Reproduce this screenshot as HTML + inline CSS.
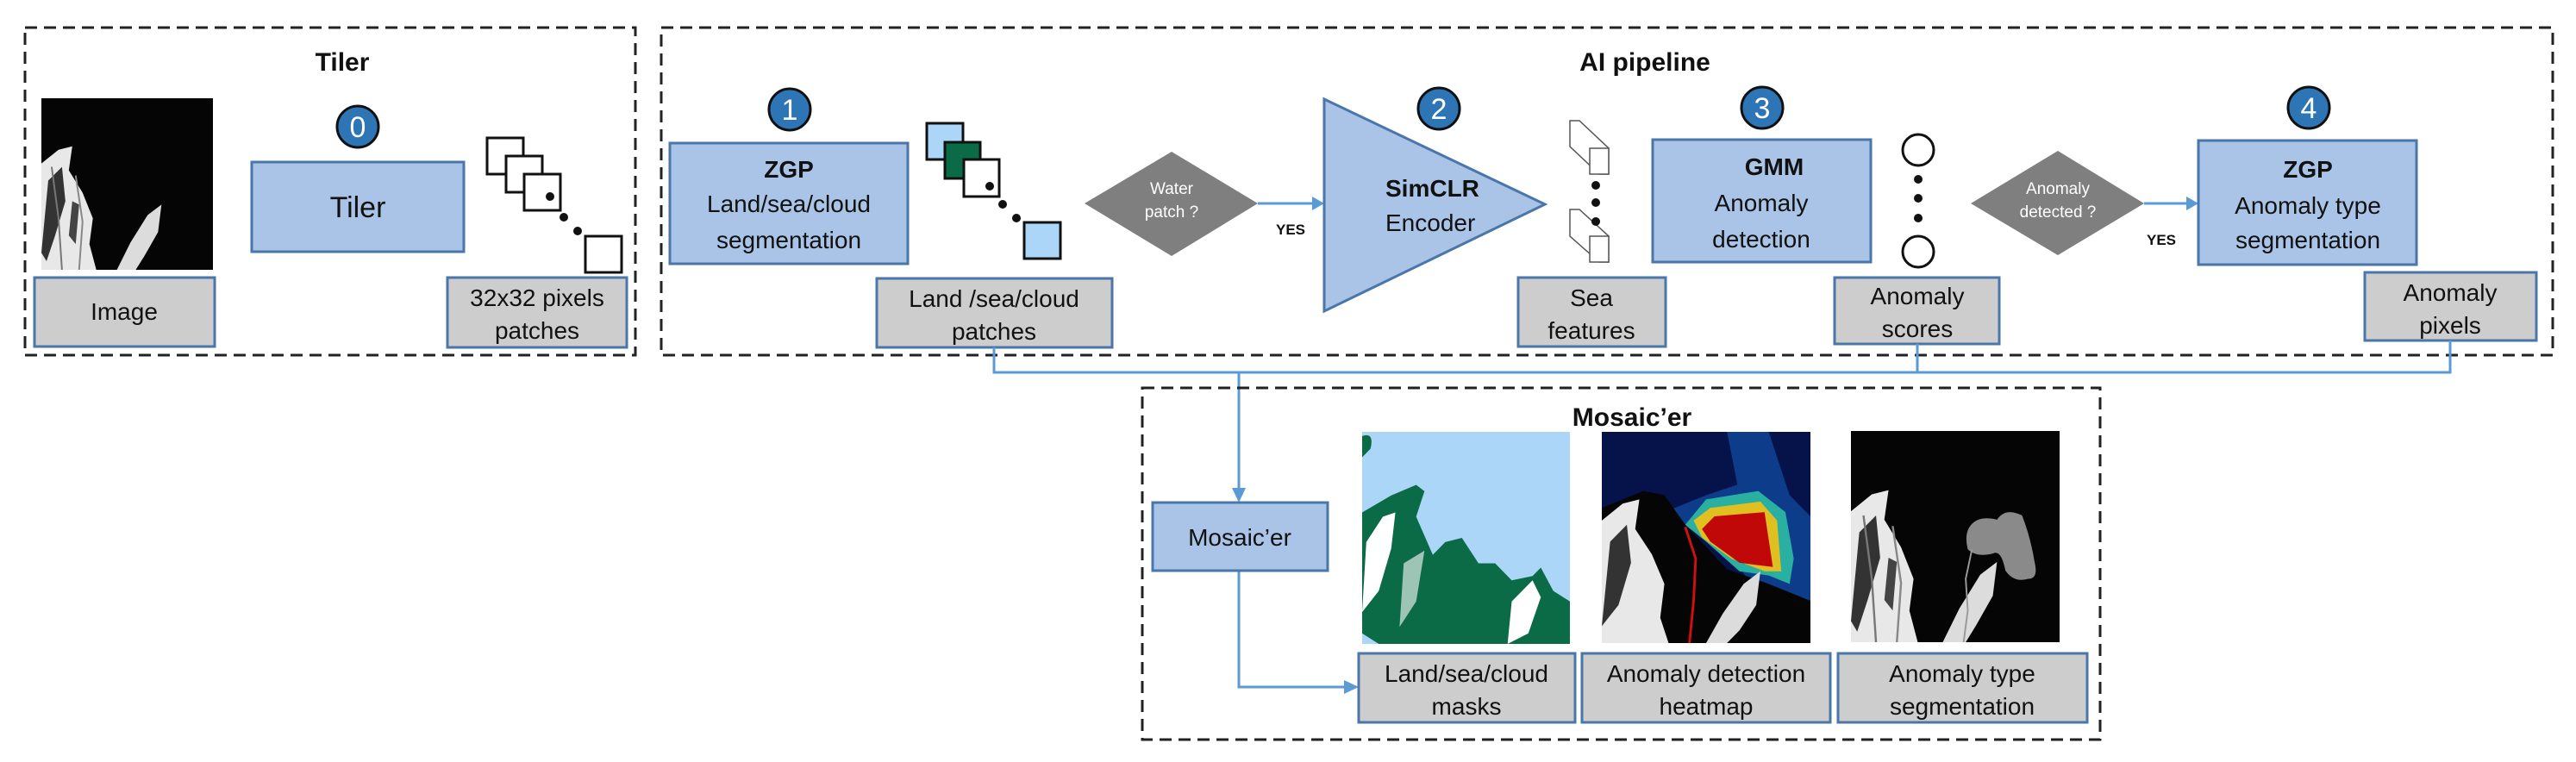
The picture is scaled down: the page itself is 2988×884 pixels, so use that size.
<!DOCTYPE html>
<html><head><meta charset="utf-8"><style>
html,body{margin:0;padding:0;background:#fff}
svg{display:block}
text{font-family:"Liberation Sans Narrow","Liberation Sans",sans-serif;fill:#111}
.t{font-size:28px}
.b{font-weight:bold}
.n{font-size:34px;fill:#fff}
.bx{fill:#a9c4e6;stroke:#4a76aa;stroke-width:3}
.lb{fill:#cdcdcd;stroke:#4a76aa;stroke-width:3}
.dash{fill:none;stroke:#222;stroke-width:3;stroke-dasharray:14 8}
.ci{fill:#2e75b6;stroke:#111;stroke-width:3}
.sq{fill:#fff;stroke:#111;stroke-width:3}
.ln{fill:none;stroke:#5b9bd5;stroke-width:3}
</style></head><body>
<svg width="2988" height="884" viewBox="0 0 2988 884" xmlns="http://www.w3.org/2000/svg">
<defs>
<symbol id="sat" viewBox="0 0 100 100" preserveAspectRatio="none">
<rect width="100" height="100" fill="#050505"/>
<polygon points="0,38 10,30 18,28 16,42 24,55 30,70 28,85 32,100 0,100" fill="#e8e8e8"/>
<polygon points="4,48 12,40 14,60 8,80 3,95 0,90" fill="#333"/>
<polygon points="62,68 70,62 68,78 60,92 55,100 44,100 52,84" fill="#dcdcdc"/>
<polygon points="18,60 22,62 20,85 16,80" fill="#444"/>
<polyline points="6,40 10,70 12,100" fill="none" stroke="#777" stroke-width="1"/>
<polyline points="20,45 24,72 22,100" fill="none" stroke="#888" stroke-width="1"/>
</symbol>
<symbol id="mask" viewBox="0 0 100 100" preserveAspectRatio="none">
<rect width="100" height="100" fill="#acd6f8"/>
<path d="M0,2 Q6,0 4,8 L0,12Z" fill="#0b6b46"/>
<polygon points="0,38 14,30 26,25 30,28 26,40 34,58 40,52 48,50 56,62 64,62 72,70 82,68 86,64 92,75 100,80 100,100 8,100 0,95" fill="#0b6b46"/>
<polygon points="2,52 10,40 16,38 14,55 8,75 0,85" fill="#fff"/>
<polygon points="72,80 82,70 86,78 80,95 70,100" fill="#fff"/>
<polygon points="20,62 30,56 26,80 18,92" fill="#fff" opacity="0.6"/>
</symbol>
<symbol id="heat" viewBox="0 0 100 100" preserveAspectRatio="none">
<rect width="100" height="100" fill="#06124a"/>
<polygon points="60,0 80,0 90,30 100,40 100,90 88,80 70,70 60,55 40,45 30,38 50,30 65,25" fill="#0d3d8a"/>
<polygon points="50,32 75,28 88,38 92,60 90,72 80,68 66,66 50,52 40,44" fill="#2ab0a0"/>
<polygon points="52,36 76,33 84,42 86,66 78,66 62,60 48,50 44,42" fill="#e0c020"/>
<polygon points="54,40 78,38 82,64 66,62 52,52 48,46" fill="#c00808"/>
<polygon points="0,36 20,28 30,30 40,44 60,65 80,72 100,80 100,100 0,100" fill="#050505"/>
<polygon points="0,42 10,34 18,32 16,46 24,58 30,72 28,88 32,100 0,100" fill="#e8e8e8"/>
<polygon points="4,52 12,44 14,62 8,82 0,92" fill="#333"/>
<polygon points="68,72 76,66 74,82 66,94 60,100 50,100 58,86" fill="#dcdcdc"/>
<polyline points="40,45 45,60 44,80 42,100" fill="none" stroke="#d01010" stroke-width="1.2"/>
</symbol>
<symbol id="seg" viewBox="0 0 100 100" preserveAspectRatio="none">
<use href="#sat" width="100" height="100"/>
<path d="M58,44 Q62,40 70,42 Q74,36 82,40 Q86,50 88,62 Q90,70 85,70 Q78,72 74,66 Q72,56 68,58 Q60,60 56,56 Q54,48 58,44Z" fill="#8a8a8a"/>
<polyline points="58,56 55,70 56,85 54,100" fill="none" stroke="#999" stroke-width="0.8"/>
</symbol>
</defs>

<rect class="dash" x="29" y="32" width="708" height="380"/>
<text x="397" y="82" text-anchor="middle" class="b" font-size="30">Tiler</text>
<use href="#sat" x="48" y="114" width="199" height="199"/>
<rect class="lb" x="40" y="322" width="209" height="80"/>
<text x="144" y="371" text-anchor="middle" class="t">Image</text>
<circle class="ci" cx="415" cy="147" r="24"/>
<text x="415" y="159" text-anchor="middle" class="n">0</text>
<rect class="bx" x="292" y="188" width="246" height="104"/>
<text x="415" y="252" text-anchor="middle" font-size="34">Tiler</text>
<rect class="sq" x="565" y="160" width="42" height="42"/>
<rect class="sq" x="587" y="181" width="42" height="42"/>
<rect class="sq" x="608" y="202" width="42" height="42"/>
<circle cx="638" cy="228" r="5" fill="#111"/>
<circle cx="654" cy="252" r="5" fill="#111"/>
<circle cx="670" cy="268" r="5" fill="#111"/>
<rect class="sq" x="679" y="274" width="42" height="42"/>
<rect class="lb" x="519" y="322" width="208" height="81"/>
<text x="623" y="355" text-anchor="middle" class="t">32x32 pixels</text>
<text x="623" y="393" text-anchor="middle" class="t">patches</text>

<rect class="dash" x="767" y="32" width="2194" height="380"/>
<text x="1908" y="82" text-anchor="middle" class="b" font-size="30">AI pipeline</text>

<circle class="ci" cx="916" cy="127" r="24"/>
<text x="916" y="139" text-anchor="middle" class="n">1</text>
<rect class="bx" x="777" y="166" width="276" height="140"/>
<text x="915" y="206" text-anchor="middle" class="t b">ZGP</text>
<text x="915" y="246" text-anchor="middle" class="t">Land/sea/cloud</text>
<text x="915" y="288" text-anchor="middle" class="t">segmentation</text>

<rect x="1075" y="143" width="42" height="42" fill="#acd6f8" stroke="#111" stroke-width="3"/>
<rect x="1096" y="165" width="41" height="42" fill="#0b6b46" stroke="#111" stroke-width="3"/>
<rect class="sq" x="1118" y="185" width="41" height="43"/>
<circle cx="1148" cy="216" r="5" fill="#111"/>
<circle cx="1163" cy="237" r="5" fill="#111"/>
<circle cx="1179" cy="253" r="5" fill="#111"/>
<rect x="1188" y="258" width="42" height="42" fill="#acd6f8" stroke="#111" stroke-width="3"/>
<rect class="lb" x="1017" y="323" width="273" height="80"/>
<text x="1153" y="356" text-anchor="middle" class="t">Land /sea/cloud</text>
<text x="1153" y="394" text-anchor="middle" class="t">patches</text>

<polygon points="1359,176 1459,236 1359,297 1258,236" fill="#7f7f7f"/>
<text x="1359" y="225" text-anchor="middle" font-size="19" style="fill:#fff">Water</text>
<text x="1359" y="252" text-anchor="middle" font-size="19" style="fill:#fff">patch ?</text>
<line class="ln" x1="1459" y1="236" x2="1524" y2="236"/>
<polygon points="1536,236 1522,228 1522,244" fill="#5b9bd5"/>
<text x="1480" y="272" font-size="17" class="b">YES</text>

<polygon points="1536,115 1792,237 1536,361" fill="#a9c4e6" stroke="#4a76aa" stroke-width="3"/>
<circle class="ci" cx="1669" cy="126" r="24"/>
<text x="1669" y="138" text-anchor="middle" class="n">2</text>
<text x="1607" y="228" class="t b">SimCLR</text>
<text x="1607" y="268" class="t">Encoder</text>

<g fill="#fff" stroke="#555" stroke-width="1.5">
<polygon points="1821,140 1832,140 1866,172 1866,202 1855,202 1821,170"/>
<rect x="1844" y="172" width="22" height="30"/>
<polygon points="1821,243 1832,243 1866,274 1866,304 1855,304 1821,274"/>
<rect x="1844" y="274" width="22" height="30"/>
</g>
<circle cx="1851" cy="215" r="5" fill="#111"/>
<circle cx="1851" cy="235" r="5" fill="#111"/>
<circle cx="1851" cy="257" r="5" fill="#111"/>
<rect class="lb" x="1761" y="322" width="171" height="80"/>
<text x="1846" y="355" text-anchor="middle" class="t">Sea</text>
<text x="1846" y="393" text-anchor="middle" class="t">features</text>

<circle class="ci" cx="2044" cy="125" r="24"/>
<text x="2044" y="137" text-anchor="middle" class="n">3</text>
<rect class="bx" x="1917" y="162" width="253" height="142"/>
<text x="2058" y="203" text-anchor="middle" class="t b">GMM</text>
<text x="2043" y="245" text-anchor="middle" class="t">Anomaly</text>
<text x="2043" y="287" text-anchor="middle" class="t">detection</text>

<circle cx="2225" cy="174" r="18" fill="#fff" stroke="#111" stroke-width="3"/>
<circle cx="2225" cy="208" r="5" fill="#111"/>
<circle cx="2225" cy="230" r="5" fill="#111"/>
<circle cx="2225" cy="253" r="5" fill="#111"/>
<circle cx="2225" cy="292" r="18" fill="#fff" stroke="#111" stroke-width="3"/>
<rect class="lb" x="2128" y="322" width="191" height="77"/>
<text x="2224" y="353" text-anchor="middle" class="t">Anomaly</text>
<text x="2224" y="391" text-anchor="middle" class="t">scores</text>

<polygon points="2387,175 2487,236 2387,296 2286,236" fill="#7f7f7f"/>
<text x="2387" y="225" text-anchor="middle" font-size="19" style="fill:#fff">Anomaly</text>
<text x="2387" y="252" text-anchor="middle" font-size="19" style="fill:#fff">detected ?</text>
<line class="ln" x1="2487" y1="236" x2="2536" y2="236"/>
<polygon points="2550,236 2536,228 2536,244" fill="#5b9bd5"/>
<text x="2490" y="284" font-size="17" class="b">YES</text>

<circle class="ci" cx="2678" cy="125" r="24"/>
<text x="2678" y="137" text-anchor="middle" class="n">4</text>
<rect class="bx" x="2550" y="163" width="253" height="144"/>
<text x="2677" y="206" text-anchor="middle" class="t b">ZGP</text>
<text x="2677" y="248" text-anchor="middle" class="t">Anomaly type</text>
<text x="2677" y="288" text-anchor="middle" class="t">segmentation</text>
<rect class="lb" x="2743" y="316" width="199" height="79"/>
<text x="2842" y="349" text-anchor="middle" class="t">Anomaly</text>
<text x="2842" y="387" text-anchor="middle" class="t">pixels</text>

<polyline class="ln" points="1153,403 1153,432 2842,432 2842,395"/>
<line class="ln" x1="2224" y1="399" x2="2224" y2="432"/>
<line class="ln" x1="1437" y1="432" x2="1437" y2="568"/>
<polygon points="1437,583 1429,566 1445,566" fill="#5b9bd5"/>
<polyline class="ln" points="1437,662 1437,797 1560,797"/>
<polygon points="1576,797 1559,789 1559,805" fill="#5b9bd5"/>

<rect class="dash" x="1325" y="450" width="1111" height="408"/>
<text x="1893" y="494" text-anchor="middle" class="b" font-size="30">Mosaic’er</text>
<rect class="bx" x="1337" y="583" width="203" height="79"/>
<text x="1438" y="633" text-anchor="middle" class="t">Mosaic’er</text>
<use href="#mask" x="1580" y="501" width="241" height="246"/>
<use href="#heat" x="1858" y="501" width="242" height="245"/>
<use href="#seg" x="2147" y="500" width="242" height="245"/>
<rect class="lb" x="1576" y="758" width="251" height="80"/>
<text x="1701" y="791" text-anchor="middle" class="t">Land/sea/cloud</text>
<text x="1701" y="829" text-anchor="middle" class="t">masks</text>
<rect class="lb" x="1835" y="758" width="288" height="80"/>
<text x="1979" y="791" text-anchor="middle" class="t">Anomaly detection</text>
<text x="1979" y="829" text-anchor="middle" class="t">heatmap</text>
<rect class="lb" x="2132" y="758" width="289" height="80"/>
<text x="2276" y="791" text-anchor="middle" class="t">Anomaly type</text>
<text x="2276" y="829" text-anchor="middle" class="t">segmentation</text>
</svg>
</body></html>
